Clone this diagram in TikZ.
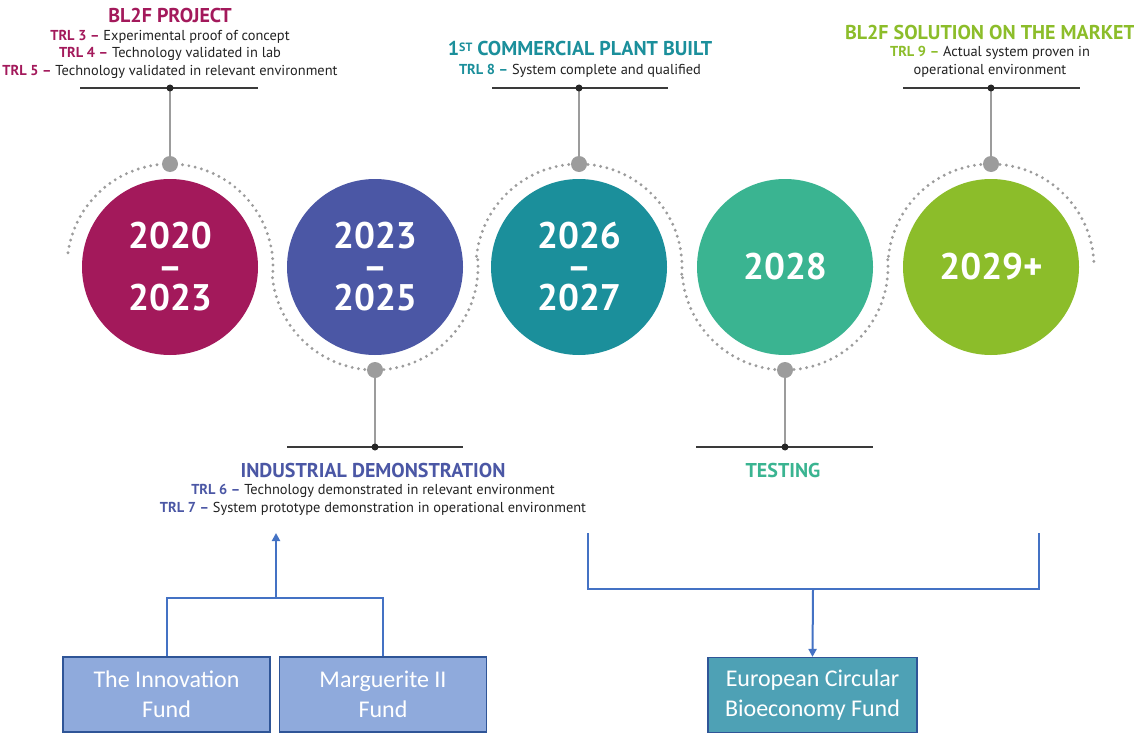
\documentclass[tikz,border=0pt]{standalone}
\usepackage{fontspec}
\setmainfont{PT Sans}
\newfontfamily\boxfont{Carlito}
\usetikzlibrary{arrows.meta}
\pgfdeclarelayer{bg}
\pgfsetlayers{bg,main}
\definecolor{cMag}{HTML}{A3195B}
\definecolor{cBlue}{HTML}{4B57A5}
\definecolor{cTeal}{HTML}{1B8F9B}
\definecolor{cSea}{HTML}{3AB491}
\definecolor{cGreen}{HTML}{8CBD2A}
\definecolor{cDot}{HTML}{9C9C9C}
\definecolor{cLine}{HTML}{3A3A3A}
\definecolor{cTxt}{HTML}{222222}
\definecolor{cArrow}{HTML}{4472C4}
\definecolor{cFundA}{HTML}{8FAADC}
\definecolor{cFundB}{HTML}{4EA1B5}
\definecolor{cEdge}{HTML}{2F5597}
\newcommand\tlab[2]{\textbf{\color{#1}#2}}
\tikzset{
  year/.style={circle, minimum size=176pt, inner sep=0pt, text=white, align=center,
    font=\fontsize{37}{31}\selectfont\bfseries},
  dotarc/.style={cDot, line width=3.2pt, line cap=round, dash pattern=on 0pt off 6.4pt},
  hub/.style={circle, fill=cDot, minimum size=16pt, inner sep=0pt},
  joint/.style={circle, fill=black!85, minimum size=7pt, inner sep=0pt},
  stem/.style={cDot, line width=2pt},
  bar/.style={cLine, line width=1.8pt},
  head/.style={font=\fontsize{20}{22}\selectfont\bfseries, inner sep=0pt},
  trl/.style={font=\fontsize{14.4}{17.5}\selectfont, text=cTxt, align=center, inner sep=0pt},
  fund/.style={draw=cEdge, line width=1.2pt, minimum width=207pt, minimum height=75pt,
    text=white, align=center, inner sep=0pt, font=\boxfont\fontsize{24}{30}\selectfont},
  link/.style={cArrow, line width=2pt},
  tip/.style={-{Triangle[length=8pt,width=8pt]}}
}
\begin{document}
\begin{tikzpicture}[x=1pt,y=-1pt]
\useasboundingbox (0,0) rectangle (1134,733);
% year circles
\node[year, fill=cMag]   (y1) at (170,267) {2020\\–\\2023};
\node[year, fill=cBlue]  (y2) at (375,267) {2023\\–\\2025};
\node[year, fill=cTeal]  (y3) at (579,267) {2026\\–\\2027};
\node[year, fill=cSea]   (y4) at (785,267) {2028};
\node[year, fill=cGreen] (y5) at (991,267) {2029+};
% hubs
\node[hub] (h1) at (170,164) {};
\node[hub] (h2) at (375,370) {};
\node[hub] (h3) at (579,164) {};
\node[hub] (h4) at (785,370) {};
\node[hub] (h5) at (991,164) {};
% joints
\node[joint] (j1) at (170,88) {};
\node[joint] (j2) at (375,447) {};
\node[joint] (j3) at (579,88) {};
\node[joint] (j4) at (785,447) {};
\node[joint] (j5) at (991,88) {};
\coordinate (b1l) at (80,88);  \coordinate (b1r) at (258,88);
\coordinate (b2l) at (287,447); \coordinate (b2r) at (463,447);
\coordinate (b3l) at (492,88); \coordinate (b3r) at (668,88);
\coordinate (b4l) at (696,447); \coordinate (b4r) at (873,447);
\coordinate (b5l) at (903,88); \coordinate (b5r) at (1080,88);
\begin{pgfonlayer}{bg}
\fill[white] (0,0) rectangle (1134,733);
\draw[dotarc] ([shift={(188:103)}]y1.center) arc[start angle=188, end angle=366, radius=103];
\draw[dotarc] ([shift={(174:103)}]y2.center) arc[start angle=174, end angle=-6, radius=103];
\draw[dotarc] ([shift={(186:103)}]y3.center) arc[start angle=186, end angle=366, radius=103];
\draw[dotarc] ([shift={(174:103)}]y4.center) arc[start angle=174, end angle=-6, radius=103];
\draw[dotarc] ([shift={(186:103)}]y5.center) arc[start angle=186, end angle=358, radius=103];
\foreach \i in {1,...,5}{
  \draw[bar] (b\i l) -- (b\i r);
  \draw[stem] (h\i.center) -- (j\i.center);
}
\end{pgfonlayer}
% top texts
\node[head, text=cMag] (p1) at (170,16) {BL2F PROJECT};
\node[trl] (d1) at (170,54) {\tlab{cMag}{TRL 3 –} Experimental proof of concept\\
  \tlab{cMag}{TRL 4 –} Technology validated in lab\\
  \tlab{cMag}{TRL 5 –} Technology validated in relevant environment};
\node[head, text=cTeal] (p3) at (580,49) {1\raisebox{0.45ex}{\fontsize{12}{12}\selectfont ST} COMMERCIAL PLANT BUILT};
\node[trl] (d3) at (580,71) {\tlab{cTeal}{TRL 8 –} System complete and qualified};
\node[head, text=cGreen] (p5) at (990,33) {BL2F SOLUTION ON THE MARKET};
\node[trl] (d5) at (990,62) {\tlab{cGreen}{TRL 9 –} Actual system proven in\\operational environment};
% bottom texts
\node[head, text=cBlue] (p2) at (373,470) {INDUSTRIAL DEMONSTRATION};
\node[trl] (d2) at (373,500) {\tlab{cBlue}{TRL 6 –} Technology demonstrated in relevant environment\\
  \tlab{cBlue}{TRL 7 –} System prototype demonstration in operational environment};
\node[head, text=cSea] (p4) at (783,470) {TESTING};
% funds
\node[fund, fill=cFundA] (f1) at (166.5,694.5) {The Innovation\\Fund};
\node[fund, fill=cFundA] (f2) at (383,694.5) {Marguerite II\\Fund};
\node[fund, fill=cFundB, minimum width=209pt] (f3) at (812.5,695) {European Circular\\Bioeconomy Fund};
\coordinate (m1) at (276,598);
\coordinate (a1) at (276,533);
\draw[link] (f1.north) |- (m1) -| (f2.north);
\draw[link, tip] (m1) -- (a1);
\coordinate (r1) at (588,533);
\coordinate (r2) at (1039,533);
\coordinate (m2) at (813,589);
\draw[link] (r1) |- (m2) -| (r2);
\draw[link, tip] (m2) -- (f3.north);
\end{tikzpicture}
\end{document}
